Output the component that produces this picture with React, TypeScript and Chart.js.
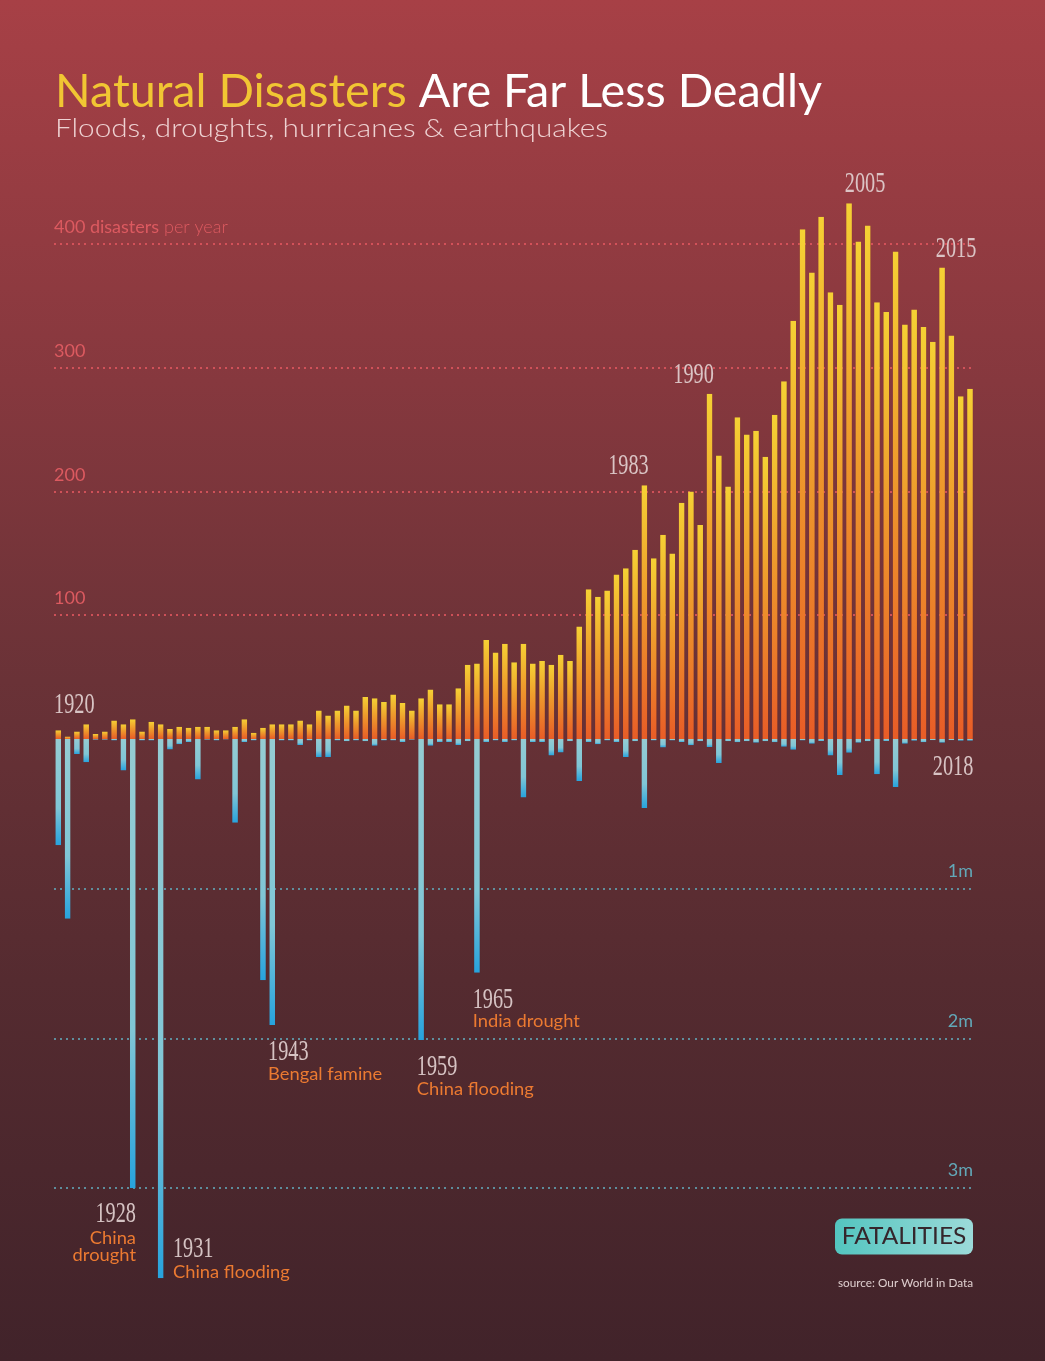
import React, { useEffect, useRef } from "react";
import { Chart, registerables } from "chart.js";

Chart.register(...registerables);

// ---------------- DATA ----------------
const YEARS: number[] = [
  1920, 1921, 1922, 1923, 1924, 1925, 1926, 1927, 1928, 1929,
  1930, 1931, 1932, 1933, 1934, 1935, 1936, 1937, 1938, 1939,
  1940, 1941, 1942, 1943, 1944, 1945, 1946, 1947, 1948, 1949,
  1950, 1951, 1952, 1953, 1954, 1955, 1956, 1957, 1958, 1959,
  1960, 1961, 1962, 1963, 1964, 1965, 1966, 1967, 1968, 1969,
  1970, 1971, 1972, 1973, 1974, 1975, 1976, 1977, 1978, 1979,
  1980, 1981, 1982, 1983, 1984, 1985, 1986, 1987, 1988, 1989,
  1990, 1991, 1992, 1993, 1994, 1995, 1996, 1997, 1998, 1999,
  2000, 2001, 2002, 2003, 2004, 2005, 2006, 2007, 2008, 2009,
  2010, 2011, 2012, 2013, 2014, 2015, 2016, 2017, 2018,
];

// number of recorded disasters per year
const DISASTERS: number[] = [
  7, 2, 6, 12, 4, 6, 15, 12, 16, 6,
  14, 12, 8, 10, 9, 10, 10, 7, 7, 10,
  16, 5, 9, 12, 12, 12, 15, 12, 23, 19,
  23, 27, 23, 34, 33, 30, 36, 29, 23, 33,
  40, 28, 28, 41, 60, 61, 80, 70, 77, 62,
  77, 61, 63, 60, 68, 63, 91, 121, 115, 120,
  133, 138, 153, 205, 146, 165, 150, 191, 200, 173,
  279, 229, 204, 260, 246, 249, 228, 262, 289, 338,
  412, 377, 422, 361, 351, 433, 402, 415, 353, 345,
  394, 335, 347, 333, 321, 381, 326, 277, 283,
];

// fatalities per year, in millions
const FATALITIES_M: number[] = [
  0.71, 1.2, 0.1, 0.155, 0.005, 0.005, 0.01, 0.21, 3.0, 0.01,
  0.01, 3.6, 0.07, 0.035, 0.02, 0.27, 0.005, 0.01, 0.003, 0.56,
  0.02, 0.01, 1.61, 1.91, 0.01, 0.01, 0.04, 0.01, 0.12, 0.12,
  0.01, 0.015, 0.01, 0.015, 0.045, 0.01, 0.01, 0.02, 0.005, 2.01,
  0.045, 0.02, 0.02, 0.04, 0.015, 1.56, 0.02, 0.01, 0.02, 0.01,
  0.39, 0.02, 0.02, 0.11, 0.09, 0.015, 0.28, 0.02, 0.035, 0.01,
  0.02, 0.12, 0.015, 0.46, 0.01, 0.056, 0.01, 0.02, 0.042, 0.015,
  0.054, 0.16, 0.015, 0.022, 0.015, 0.025, 0.015, 0.022, 0.052, 0.072,
  0.01, 0.031, 0.013, 0.11, 0.24, 0.092, 0.025, 0.015, 0.235, 0.013,
  0.32, 0.031, 0.011, 0.022, 0.008, 0.025, 0.008, 0.011, 0.011,
];

const DISASTER_TICKS: number[] = [100, 200, 300, 400];
const DISASTER_TICK_LABELS: string[] = ["100", "200", "300", "400 disasters"];
const FATALITY_TICKS: number[] = [1, 2, 3];
const FATALITY_TICK_LABELS: string[] = ["1m", "2m", "3m"];

const PEAK_YEARS: number[] = [1920, 1983, 1990, 2005, 2015];
const END_YEAR = 2018;
const EVENT_YEARS: number[] = [1928, 1931, 1943, 1959, 1965];
const EVENT_TEXTS: string[][] = [
  ["China", "drought"],
  ["China flooding"],
  ["Bengal famine"],
  ["China flooding"],
  ["India drought"],
];

const TITLE_HIGHLIGHT = "Natural Disasters";
const TITLE_REST = " Are Far Less Deadly";
const SUBTITLE = "Floods, droughts, hurricanes & earthquakes";
const BADGE = "FATALITIES";
const SOURCE = "source: Our World in Data";

// ---------------- LAYOUT ----------------
const W = 1045;
const H = 1361;
const BASE_Y = 739;
const AREA_TOP = 170;
const AREA_BOTTOM = 1290;
const AREA_LEFT = 53.65;
const AREA_RIGHT = 974.65;
const PX_PER_DISASTER = 1.2375;
const PX_PER_MILLION = 149.77;
const GRID_X0 = 54;
const GRID_X1 = 973;

const YEAR_FONT = '30px "Liberation Serif"';
const EVENT_FONT = '18px Lato';
const YEAR_COLOR = "rgba(226,208,208,0.92)";
const EVENT_COLOR = "#ec7a31";

function drawScaled(
  ctx: CanvasRenderingContext2D,
  text: string,
  x: number,
  y: number,
  font: string,
  color: string | CanvasGradient,
  sx: number,
  align: "left" | "right" | "center"
) {
  ctx.save();
  ctx.font = font;
  ctx.fillStyle = color;
  ctx.textAlign = "left";
  ctx.textBaseline = "alphabetic";
  const w = ctx.measureText(text).width * sx;
  const x0 = align === "left" ? x : align === "right" ? x - w : x - w / 2;
  ctx.translate(x0, y);
  ctx.scale(sx, 1);
  ctx.fillText(text, 0, 0);
  ctx.restore();
  return w;
}

function scaleFor(ctx: CanvasRenderingContext2D, font: string, sample: string, target: number) {
  ctx.save();
  ctx.font = font;
  const w = ctx.measureText(sample).width;
  ctx.restore();
  return w > 0 ? target / w : 1;
}

function dotted(ctx: CanvasRenderingContext2D, y: number, color: string) {
  ctx.save();
  ctx.fillStyle = color;
  for (let x = GRID_X0; x <= GRID_X1; x += 6.1) {
    ctx.fillRect(Math.round(x), Math.round(y) - 1, 2, 2);
  }
  ctx.restore();
}

const decorPlugin = {
  id: "decor",
  beforeDatasetsDraw(chart: any) {
    const ctx: CanvasRenderingContext2D = chart.ctx;
    const y = chart.scales.y;
    const y2 = chart.scales.y2;
    DISASTER_TICKS.forEach((v) => dotted(ctx, y.getPixelForValue(v), "rgba(222,86,94,0.85)"));
    FATALITY_TICKS.forEach((v) => dotted(ctx, y2.getPixelForValue(v), "rgba(96,160,176,0.85)"));
  },
  afterDatasetsDraw(chart: any) {
    const ctx: CanvasRenderingContext2D = chart.ctx;
    const y = chart.scales.y;
    const y2 = chart.scales.y2;
    const topMeta = chart.getDatasetMeta(0);
    const botMeta = chart.getDatasetMeta(1);
    const bar = (meta: any, year: number) => {
      const el = meta.data[YEARS.indexOf(year)];
      return { left: el.x - el.width / 2, right: el.x + el.width / 2, end: el.y, x: el.x };
    };

    // ---- titles ----
    const titleFont = "400 46px Lato";
    const tsx = scaleFor(ctx, titleFont, TITLE_HIGHLIGHT + TITLE_REST, 767);
    const w1 = drawScaled(ctx, TITLE_HIGHLIGHT, 55, 107, titleFont, "#f1c633", tsx, "left");
    drawScaled(ctx, TITLE_REST, 55 + w1, 107, titleFont, "#ffffff", tsx, "left");
    const subFont = "300 26px Lato";
    const ssx = scaleFor(ctx, subFont, SUBTITLE, 553);
    drawScaled(ctx, SUBTITLE, 55, 137, subFont, "rgba(245,222,222,0.92)", ssx, "left");

    // ---- gridline labels ----
    const tickFont = "400 18px Lato";
    const tickColor = "#dc5a60";
    DISASTER_TICKS.forEach((v, i) => {
      const py = y.getPixelForValue(v) - 11;
      const label = DISASTER_TICK_LABELS[i];
      const w = drawScaled(ctx, label, 54, py, tickFont, tickColor, 1.0, "left");
      if (i === DISASTER_TICKS.length - 1) {
        drawScaled(ctx, " per year", 54 + w, py, "300 18px Lato", tickColor, 1.0, "left");
      }
    });
    FATALITY_TICKS.forEach((v, i) => {
      const py = y2.getPixelForValue(v) - 12;
      drawScaled(ctx, FATALITY_TICK_LABELS[i], 973, py, tickFont, "#62a8b8", 1.0, "right");
    });

    // ---- year labels ----
    const ysx = scaleFor(ctx, YEAR_FONT, "1943", 40.5);
    const esx = scaleFor(ctx, EVENT_FONT, "China flooding", 117);

    PEAK_YEARS.forEach((yr) => {
      const b = bar(topMeta, yr);
      const base = Math.min(b.end - 11, BASE_Y - 26);
      const rightAligned = yr === 1983 || yr === 1990;
      if (rightAligned) drawScaled(ctx, String(yr), b.right + 1, base, YEAR_FONT, YEAR_COLOR, ysx, "right");
      else drawScaled(ctx, String(yr), b.left - (yr === 2015 ? 3 : 1), base, YEAR_FONT, YEAR_COLOR, ysx, "left");
    });
    {
      const b = bar(topMeta, END_YEAR);
      drawScaled(ctx, String(END_YEAR), b.right, BASE_Y + 36, YEAR_FONT, YEAR_COLOR, ysx, "right");
    }

    EVENT_YEARS.forEach((yr, i) => {
      const b = bar(botMeta, yr);
      const lines = EVENT_TEXTS[i];
      if (yr === 1928) {
        const yb = b.end + 33.5;
        drawScaled(ctx, String(yr), b.right, yb, YEAR_FONT, YEAR_COLOR, ysx, "right");
        lines.forEach((t, k) =>
          drawScaled(ctx, t, b.right, yb + 22.5 + k * 17, EVENT_FONT, EVENT_COLOR, esx, "right")
        );
      } else if (yr === 1931) {
        const eb = b.end;
        drawScaled(ctx, String(yr), b.right + 9, eb - 21, YEAR_FONT, YEAR_COLOR, ysx, "left");
        lines.forEach((t) => drawScaled(ctx, t, b.right + 9, eb, EVENT_FONT, EVENT_COLOR, esx, "left"));
      } else {
        const yb = b.end + 35;
        drawScaled(ctx, String(yr), b.left - 1, yb, YEAR_FONT, YEAR_COLOR, ysx, "left");
        lines.forEach((t, k) =>
          drawScaled(ctx, t, b.left - 1, yb + 19.5 + k * 17, EVENT_FONT, EVENT_COLOR, esx, "left")
        );
      }
    });

    // ---- badge ----
    ctx.save();
    const bx = 835, by = 1218.5, bw = 138, bh = 36;
    const g = ctx.createLinearGradient(bx, 0, bx + bw, 0);
    g.addColorStop(0, "#53c5bf");
    g.addColorStop(1, "#9cdad9");
    ctx.fillStyle = g;
    ctx.beginPath();
    (ctx as any).roundRect(bx, by, bw, bh, 7);
    ctx.fill();
    ctx.restore();
    const bsx = scaleFor(ctx, "400 23px Lato", BADGE, 124.5);
    drawScaled(ctx, BADGE, bx + bw / 2, 1244.3, "400 23px Lato", "#35262c", bsx, "center");

    const srsx = scaleFor(ctx, "400 12px Lato", SOURCE, 135);
    drawScaled(ctx, SOURCE, 973, 1286.5, "400 12px Lato", "rgba(235,220,220,0.92)", srsx, "right");
  },
};

function topGradient(c: any) {
  const fallback = "#f0a830";
  if (!c || c.type !== "data") return fallback;
  const chart = c.chart;
  const ys = chart && chart.scales && chart.scales.y;
  if (!ys) return fallback;
  const base = ys.getPixelForValue(0);
  const top = ys.getPixelForValue(Number(c.raw));
  if (!Number.isFinite(base) || !Number.isFinite(top)) return fallback;
  const g = chart.ctx.createLinearGradient(0, base, 0, Math.min(top, base - 1));
  g.addColorStop(0, "#e85c27");
  g.addColorStop(0.55, "#ee9a2c");
  g.addColorStop(1, "#f5d134");
  return g;
}

function bottomGradient(c: any) {
  const fallback = "#8fcbd3";
  if (!c || c.type !== "data") return fallback;
  const chart = c.chart;
  const ys = chart && chart.scales && chart.scales.y2;
  if (!ys) return fallback;
  const base = ys.getPixelForValue(0);
  const end = ys.getPixelForValue(Number(c.raw));
  if (!Number.isFinite(base) || !Number.isFinite(end)) return fallback;
  const g = chart.ctx.createLinearGradient(0, base, 0, Math.max(end, base + 1));
  g.addColorStop(0, "#95ccd3");
  g.addColorStop(0.65, "#80c6d6");
  g.addColorStop(1, "#27a3dd");
  return g;
}

export default function App() {
  const canvasRef = useRef<HTMLCanvasElement | null>(null);

  useEffect(() => {
    if (!canvasRef.current) return;
    const chart = new Chart(canvasRef.current, {
      type: "bar",
      data: {
        labels: YEARS.map(String),
        datasets: [
          {
            label: "Disasters",
            data: DISASTERS,
            yAxisID: "y",
            grouped: false,
            backgroundColor: topGradient,
            borderColor: "rgba(95,25,32,0.25)",
            borderWidth: { top: 0, left: 0.5, right: 0.5, bottom: 0 },
            barPercentage: 0.7,
            categoryPercentage: 1,
          } as any,
          {
            label: "Fatalities",
            data: FATALITIES_M,
            yAxisID: "y2",
            grouped: false,
            backgroundColor: bottomGradient,
            borderColor: "rgba(95,25,32,0.2)",
            borderWidth: { top: 0, left: 0.5, right: 0.5, bottom: 0 },
            barPercentage: 0.7,
            categoryPercentage: 1,
          } as any,
        ],
      },
      options: {
        responsive: false,
        animation: false,
        events: [],
        layout: {
          padding: {
            left: AREA_LEFT,
            right: W - AREA_RIGHT,
            top: AREA_TOP,
            bottom: H - AREA_BOTTOM,
          },
        },
        plugins: {
          legend: { display: false },
          tooltip: { enabled: false },
          title: { display: false },
        },
        scales: {
          x: { display: false, offset: true, grid: { display: false } },
          y: {
            display: false,
            min: -(AREA_BOTTOM - BASE_Y) / PX_PER_DISASTER,
            max: (BASE_Y - AREA_TOP) / PX_PER_DISASTER,
          },
          y2: {
            display: false,
            position: "right",
            reverse: true,
            min: -(BASE_Y - AREA_TOP) / PX_PER_MILLION,
            max: (AREA_BOTTOM - BASE_Y) / PX_PER_MILLION,
          },
        },
      } as any,
      plugins: [decorPlugin],
    });
    return () => chart.destroy();
  }, []);

  return (
    <div
      style={{
        position: "absolute",
        left: 0,
        top: 0,
        width: W,
        height: H,
        overflow: "hidden",
        background: "linear-gradient(to bottom, #a74046 0%, #86383e 28%, #6a3237 50%, #552b30 72%, #41232a 100%)",
      }}
    >
      <canvas ref={canvasRef} width={W} height={H} style={{ display: "block", width: W, height: H }} />
    </div>
  );
}
